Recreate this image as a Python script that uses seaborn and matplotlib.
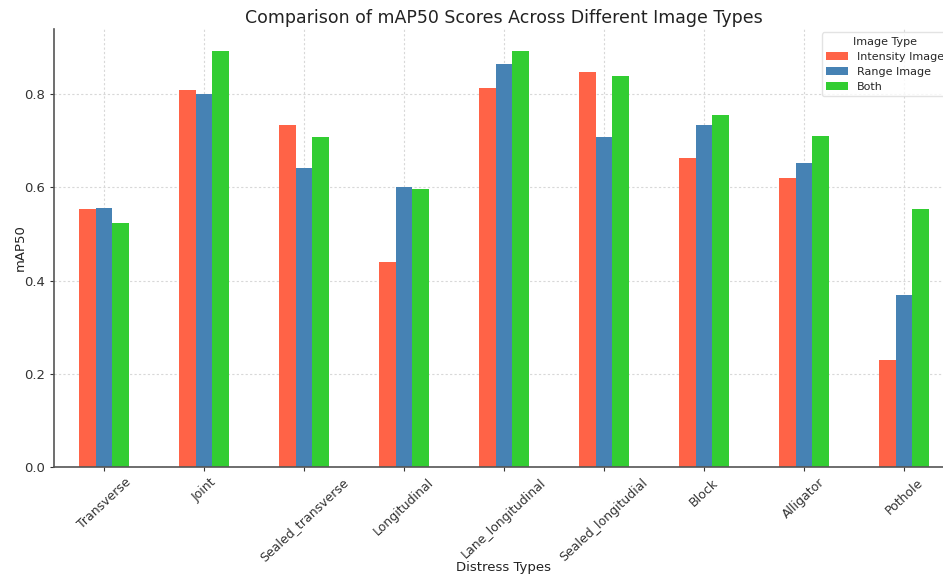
import matplotlib
matplotlib.use("Agg")
import matplotlib.pyplot as plt
import seaborn as sns
import pandas as pd

categories = ["Transverse", "Joint", "Sealed_transverse", "Longitudinal",
              "Lane_longitudinal", "Sealed_longitudial", "Block", "Alligator", "Pothole"]
series_names = ["Intensity Image", "Range Image", "Both"]
intensity = [0.553, 0.809, 0.734, 0.441, 0.813, 0.847, 0.663, 0.620, 0.229]
range_img = [0.556, 0.800, 0.642, 0.600, 0.864, 0.708, 0.734, 0.652, 0.369]
both = [0.523, 0.892, 0.708, 0.597, 0.892, 0.839, 0.755, 0.711, 0.553]
colors = ["#FF6347", "#4682B4", "#32CD32"]

rows = []
for name, vals in zip(series_names, [intensity, range_img, both]):
    for c, v in zip(categories, vals):
        rows.append({"Distress Types": c, "Image Type": name, "mAP50": v})
df = pd.DataFrame(rows)

sns.set_style("whitegrid")
plt.rcParams["font.family"] = ["DejaVu Sans"]

fig = plt.figure(figsize=(9.43, 5.78), dpi=100)
ax = fig.add_axes([54/943, 1-467/578, 900/943, (467-29)/578])
sns.barplot(data=df, x="Distress Types", y="mAP50", hue="Image Type",
            palette=colors, width=0.5, ax=ax, saturation=1, edgecolor="none")
ax.set_xlim(-0.5, 8.5)
ax.set_ylim(0, 0.94)
ax.set_yticks([0.0, 0.2, 0.4, 0.6, 0.8])
ax.grid(True, linestyle=(0, (2, 2)), color="#d8d8d8", linewidth=0.8)
ax.set_axisbelow(True)
for s in ["top", "right"]:
    ax.spines[s].set_visible(False)
for s in ["left", "bottom"]:
    ax.spines[s].set_color("#555555")
    ax.spines[s].set_linewidth(1.2)
ax.tick_params(axis="y", labelsize=9.5, colors="#333333", length=3, left=True)
ax.tick_params(axis="x", labelsize=9, colors="#333333", length=3, bottom=True)
plt.setp(ax.get_xticklabels(), rotation=43, ha="center")
ax.set_title("Comparison of mAP50 Scores Across Different Image Types",
             fontsize=12.5, color="#222222", pad=4)
ax.set_xlabel("Distress Types", fontsize=9.5, color="#222222", va="center")
ax.xaxis.set_label_coords(0.5, (467-568)/438)
ax.set_ylabel("mAP50", fontsize=9.5, color="#222222", va="center")
ax.yaxis.set_label_coords((20-54)/900, 0.5)
leg = ax.legend(title="Image Type", loc="upper right", fontsize=8,
                title_fontsize=8, frameon=True, bbox_to_anchor=(0.998, 1.0),
                borderaxespad=0.3, labelspacing=0.45)
leg.get_frame().set_edgecolor("#dddddd")
fig.savefig("out.png", dpi=100)
